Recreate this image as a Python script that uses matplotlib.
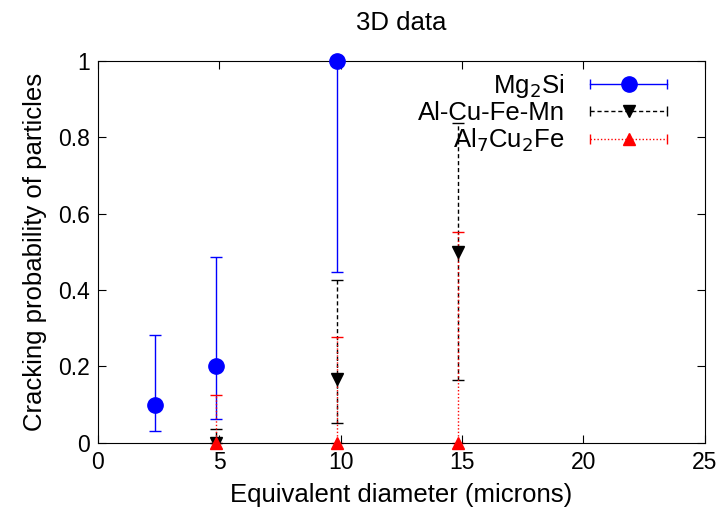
import numpy as np
import matplotlib.pyplot as plt
from matplotlib.lines import Line2D
from matplotlib.legend_handler import HandlerLine2D, HandlerTuple

plt.rcParams['font.family'] = ['Liberation Sans', 'DejaVu Sans']
plt.rcParams['font.size'] = 18

# Cracking probability vs equivalent diameter, with lower/upper bounds
mg_x = [2.35, 4.85, 9.85]
mg_y = [0.1, 0.2, 1.0]
mg_lo = [0.03, 0.063, 0.447]
mg_hi = [0.283, 0.487, 1.0]

acfm_x = [4.85, 9.85, 14.85]
acfm_y = [0.0, 0.167, 0.5]
acfm_lo = [0.0, 0.052, 0.165]
acfm_hi = [0.035, 0.427, 0.838]

al7_x = [4.85, 9.85, 14.85]
al7_y = [0.0, 0.0, 0.0]
al7_lo = [0.0, 0.0, 0.0]
al7_hi = [0.126, 0.277, 0.553]

series = [
    ('Mg$_2$Si', mg_x, mg_y, mg_lo, mg_hi, '#0000ff', '-', 'o', 11),
    ('Al-Cu-Fe-Mn', acfm_x, acfm_y, acfm_lo, acfm_hi, 'black', (0, (3, 2)), 'v', 9),
    ('Al$_7$Cu$_2$Fe', al7_x, al7_y, al7_lo, al7_hi, 'red', (0, (1, 1.5)), '^', 9),
]

fig = plt.figure(figsize=(7.23, 5.21), dpi=100)
ax = fig.add_axes([0.1355, 0.150, 0.839, 0.733])

handles, labels, hmap = [], [], {}
for label, x, y, lo, hi, color, ls, marker, ms in series:
    x = np.array(x)
    y = np.array(y)
    yerr = [y - np.array(lo), np.array(hi) - y]
    _, caps, bars = ax.errorbar(x, y, yerr=yerr, fmt='none', ecolor=color,
                                elinewidth=1.0, capsize=4, capthick=1.0,
                                clip_on=False, zorder=2)
    bars[0].set_linestyle(ls)
    ax.plot(x, y, linestyle='none', marker=marker, markersize=ms,
            color=color, clip_on=False, zorder=3)

    # legend sample: horizontal bar with end caps and the marker in the middle
    cap = Line2D([], [], color=color, linestyle=ls, lw=1.0, marker='|',
                 markersize=7, markeredgewidth=1.0)
    pt = Line2D([], [], color=color, linestyle='none', marker=marker,
                markersize=ms)
    hmap[cap] = HandlerLine2D(numpoints=2, marker_pad=0)
    hmap[pt] = HandlerLine2D(numpoints=1)
    handles.append((cap, pt))
    labels.append(label)

hmap[tuple] = HandlerTuple(ndivide=1, pad=0)
leg = ax.legend(handles, labels, handler_map=hmap, loc='upper right',
                bbox_to_anchor=(0.947, 0.985), markerfirst=False,
                frameon=False, handlelength=3.0,
                handletextpad=1.0, labelspacing=0.06, borderpad=0.2,
                borderaxespad=0.0, fontsize=18.5)
for t in leg.get_texts():
    t.set_ha('right')
leg._legend_box.align = 'right'

ax.set_xlim(0, 25)
ax.set_ylim(0, 1)
ax.set_xticks([0, 5, 10, 15, 20, 25])
ax.set_yticks([0, 0.2, 0.4, 0.6, 0.8, 1])
ax.set_yticklabels(['0', '0.2', '0.4', '0.6', '0.8', '1'])
ax.tick_params(direction='in', length=6, top=True, right=True,
               labelsize=16.5, pad=6)
ax.set_xlabel('Equivalent diameter (microns)', fontsize=18.5, labelpad=6)
ax.set_ylabel('Cracking probability of particles', fontsize=18.5, labelpad=8)
ax.set_title('3D data', fontsize=18.5, pad=22)

fig.savefig('out.png', dpi=100)
